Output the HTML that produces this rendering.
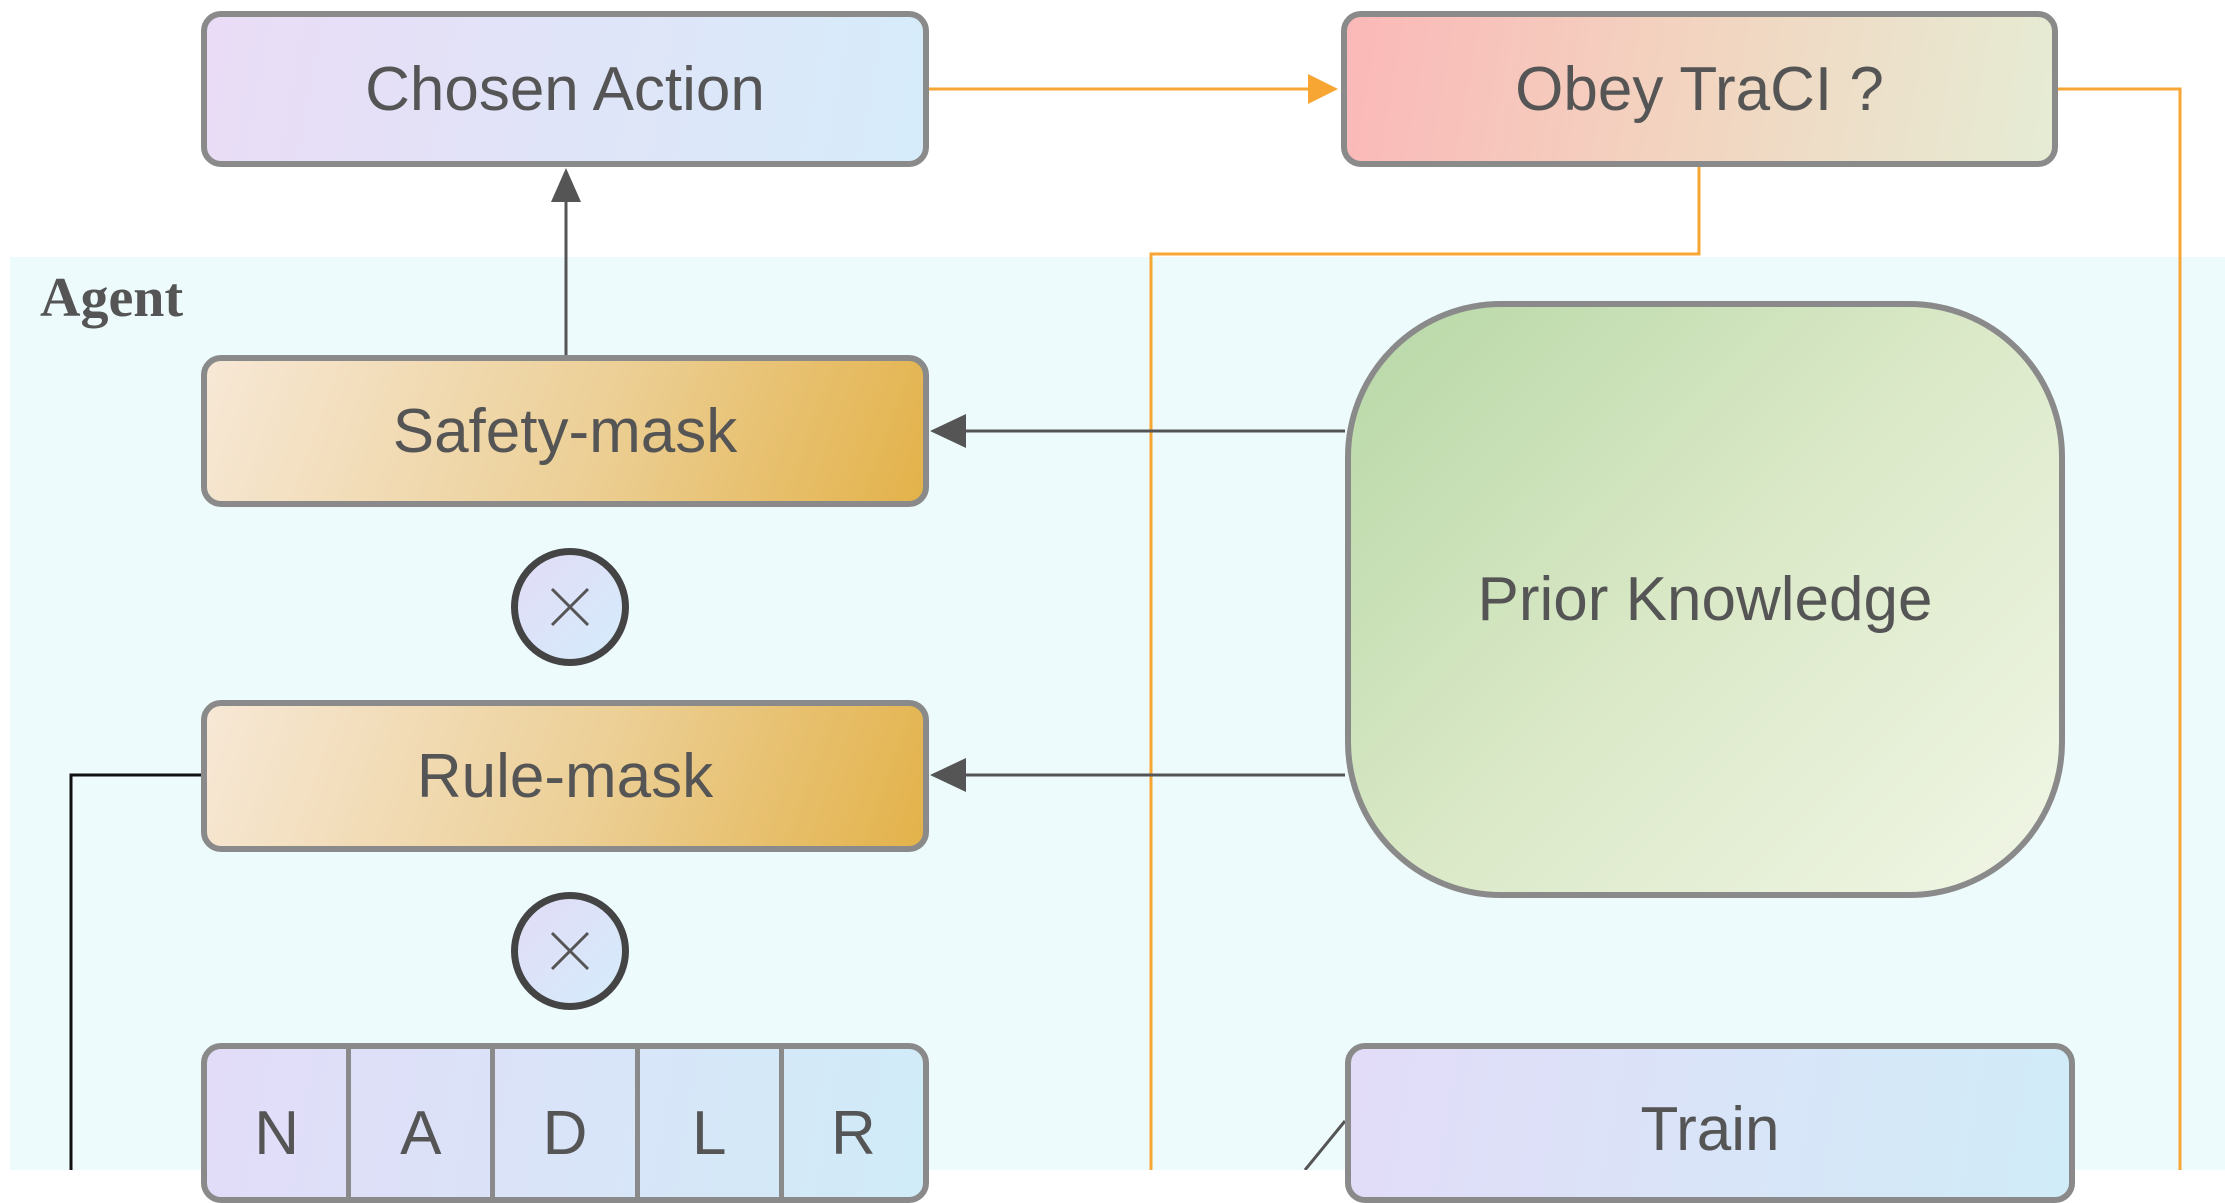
<!DOCTYPE html>
<html><head><meta charset="utf-8"><style>
html,body{margin:0;padding:0;background:#fff;}
body{width:2225px;height:1170px;position:relative;overflow:hidden;font-family:"Liberation Sans",Arial,sans-serif;}
.bg{position:absolute;left:10px;top:257px;width:2215px;height:913px;background:#eefbfd;}
.box{position:absolute;box-sizing:border-box;border:6px solid #8a8a8a;border-radius:20px;display:flex;align-items:center;justify-content:center;color:#555;font-size:62px;}
.circ{position:absolute;box-sizing:border-box;width:118px;height:118px;border-radius:50%;border:7px solid #444;background:linear-gradient(135deg,#e2dcf8,#d4ecfa);}
.agent{position:absolute;left:40px;top:266px;font-family:"Liberation Serif",serif;font-weight:bold;font-size:56px;color:#555;}
svg{position:absolute;left:0;top:0;}
.cell{flex:1;height:100%;display:flex;align-items:center;justify-content:center;border-right:5px solid #8a8a8a;padding-top:20px;box-sizing:border-box;}
</style></head><body>
<div class="bg"></div>
<div class="agent">Agent</div>
<svg width="2225" height="1170">
<g fill="none" stroke="#f7a533" stroke-width="3">
<polyline points="929,89 1325,89"/>
<polyline points="2058,89 2180,89 2180,1170"/>
<polyline points="1699,167 1699,254 1151,254 1151,1170"/>
</g>
<polygon points="1338,89 1308,74 1308,104" fill="#f7a533"/>
<g stroke="#555" stroke-width="3" fill="none">
<line x1="566" y1="355" x2="566" y2="195"/>
<line x1="1345" y1="431" x2="960" y2="431"/>
<line x1="1345" y1="775" x2="960" y2="775"/>
<line x1="1345" y1="1121" x2="1305" y2="1170"/>
</g>
<polyline points="201,775 71,775 71,1170" fill="none" stroke="#111" stroke-width="3"/>
<polygon points="566,168 551,202 581,202" fill="#555"/>
<polygon points="930,431 966,414 966,448" fill="#555"/>
<polygon points="930,775 966,758 966,792" fill="#555"/>
</svg>
<div class="box" style="left:201px;top:11px;width:728px;height:156px;background:linear-gradient(100deg,#eadcf6,#d6ecfa);">Chosen Action</div>
<div class="box" style="left:1341px;top:11px;width:717px;height:156px;background:linear-gradient(100deg,#fbb8b8,#f2d5c0 50%,#e6ecd4);">Obey TraCI ?</div>
<div class="box" style="left:201px;top:355px;width:728px;height:152px;background:linear-gradient(110deg,#f7e8d6,#eccf95 55%,#e3b24a);">Safety-mask</div>
<div class="circ" style="left:511px;top:548px;"></div>
<div class="box" style="left:201px;top:700px;width:728px;height:152px;background:linear-gradient(110deg,#f7e8d6,#eccf95 55%,#e3b24a);">Rule-mask</div>
<div class="circ" style="left:511px;top:892px;"></div>
<svg width="2225" height="1170" style="pointer-events:none">
<g stroke="#555" stroke-width="3">
<line x1="552" y1="589" x2="588" y2="625"/><line x1="588" y1="589" x2="552" y2="625"/>
<line x1="552" y1="933" x2="588" y2="969"/><line x1="588" y1="933" x2="552" y2="969"/>
</g></svg>
<div class="box" style="left:1345px;top:301px;width:720px;height:597px;border-radius:156px;background:linear-gradient(135deg,#b7d8a6,#dbe9c8 50%,#f1f6e6);">Prior Knowledge</div>
<div class="box" style="left:201px;top:1043px;width:728px;height:160px;background:linear-gradient(100deg,#e2dcf8,#d0ecf8);justify-content:stretch;align-items:stretch;">
<div style="display:flex;width:100%;height:100%;"><div class="cell">N</div><div class="cell">A</div><div class="cell">D</div><div class="cell">L</div><div class="cell" style="border-right:none">R</div></div></div>
<div class="box" style="left:1345px;top:1043px;width:730px;height:160px;background:linear-gradient(100deg,#e2dcf8,#d0ecf8);align-items:flex-start;padding-top:45px;">Train</div>
</body></html>
